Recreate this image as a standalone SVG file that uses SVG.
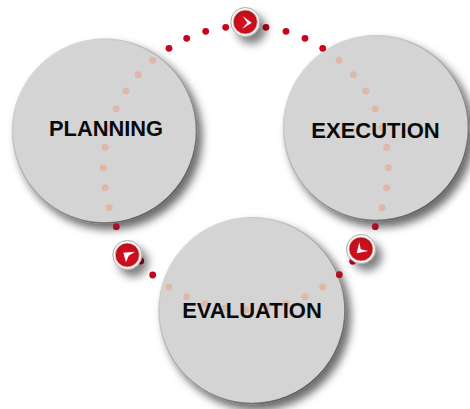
<svg xmlns="http://www.w3.org/2000/svg" width="470" height="409" viewBox="0 0 470 409">
<style>
.disc{fill:#d4d4d4;stroke:url(#discEdge);stroke-width:1.6;filter:url(#discShadow)}
.label{font-family:"Liberation Sans",Arial,sans-serif;font-weight:700;font-size:22px;fill:#0a0a0a;text-anchor:middle}
.red{fill:#c9041f}
.faded{fill:#dfb9a6}
.ring{fill:#fbfbfb;stroke:#a8a8a8;stroke-width:1;filter:url(#btnShadow)}
.core{fill:url(#btnFill);stroke:#e9b4ac;stroke-width:.8}
.arrow{fill:#fff}
</style>
<defs>
<linearGradient id="discEdge" x1="0.15" y1="0.1" x2="0.85" y2="0.9"><stop offset="0" stop-color="#dcdcdc"/><stop offset="0.45" stop-color="#b0b0b0"/><stop offset="1" stop-color="#5a5a5a"/></linearGradient>
<radialGradient id="btnFill" cx="0.5" cy="0.55" r="0.55"><stop offset="0" stop-color="#dc0c1e"/><stop offset="0.7" stop-color="#c80f1c"/><stop offset="0.92" stop-color="#a9141a"/><stop offset="1" stop-color="#c8503f"/></radialGradient>
<filter id="discShadow" x="-15%" y="-15%" width="135%" height="135%"><feDropShadow dx="5" dy="6" stdDeviation="4.5" flood-color="#000" flood-opacity="0.58"/></filter>
<filter id="btnShadow" x="-60%" y="-60%" width="240%" height="240%"><feDropShadow dx="6" dy="7" stdDeviation="4.5" flood-color="#000" flood-opacity="0.5"/></filter>
</defs>
<g id="node-planning"><circle class="disc" cx="104.5" cy="131" r="92"/></g>
<g id="node-execution"><circle class="disc" cx="376" cy="128" r="92.5"/></g>
<g id="node-evaluation"><circle class="disc" cx="252" cy="310.5" r="93"/></g>
<g id="connectors">
<g class="faded">
<circle cx="152.7" cy="60.3" r="3.5"/><circle cx="138.3" cy="74.7" r="3.5"/><circle cx="126" cy="91" r="3.5"/><circle cx="116.3" cy="108.7" r="3.5"/><circle cx="109" cy="127.7" r="3.5"/><circle cx="105" cy="147.3" r="3.5"/><circle cx="103.3" cy="167.7" r="3.5"/><circle cx="105" cy="187.7" r="3.5"/><circle cx="109.3" cy="207.7" r="3.5"/>
<circle cx="339" cy="60.3" r="3.5"/><circle cx="353.3" cy="74.7" r="3.5"/><circle cx="365.7" cy="91" r="3.5"/><circle cx="375.3" cy="108.7" r="3.5"/><circle cx="381.7" cy="127.7" r="3.5"/><circle cx="386.7" cy="147.3" r="3.5"/><circle cx="388.3" cy="167.7" r="3.5"/><circle cx="386.7" cy="187.7" r="3.5"/><circle cx="382.3" cy="207.7" r="3.5"/>
<circle cx="169" cy="287" r="3.5"/><circle cx="186.7" cy="296.7" r="3.5"/><circle cx="205.3" cy="303.7" r="3.5"/><circle cx="225.3" cy="307.7" r="3.5"/><circle cx="246" cy="309.7" r="3.5"/><circle cx="266.7" cy="307.7" r="3.5"/><circle cx="286" cy="303.7" r="3.5"/><circle cx="305" cy="296.7" r="3.5"/><circle cx="322.7" cy="287" r="3.5"/>
</g>
<g class="red">
<circle cx="169" cy="48.3" r="3.4"/><circle cx="186.7" cy="38.3" r="3.4"/><circle cx="205.7" cy="31.3" r="3.4"/><circle cx="225.7" cy="27.3" r="3.4"/><circle cx="266" cy="27.3" r="3.4"/><circle cx="286" cy="31.3" r="3.4"/><circle cx="305" cy="38.3" r="3.4"/><circle cx="322.7" cy="48.3" r="3.4"/>
<circle cx="116.3" cy="226.7" r="3.4" fill="#a80f22"/><circle cx="375.3" cy="226.7" r="3.4" fill="#a80f22"/>
<circle cx="140.7" cy="261" r="3.4"/><circle cx="152.7" cy="275" r="3.4"/><circle cx="352.7" cy="261.3" r="3.4"/><circle cx="339.3" cy="274.7" r="3.4" fill="#b0101f"/>
</g>
</g>
<g id="labels">
<text class="label" x="106" y="136" textLength="114" lengthAdjust="spacingAndGlyphs">PLANNING</text>
<text class="label" x="375.5" y="138">EXECUTION</text>
<text class="label" x="252" y="318">EVALUATION</text>
</g>
<g id="button-top">
<circle class="ring" cx="245.3" cy="22" r="14.5"/><circle class="core" cx="245.3" cy="22" r="12"/>
<path class="arrow" d="M242.7 16.2 L251.7 22.7 L242 28.9 L247.3 22.7 Z"/>
</g>
<g id="button-left">
<circle class="ring" cx="127.3" cy="255" r="14.5"/><circle class="core" cx="127.3" cy="255" r="12"/>
<path class="arrow" d="M135 251.7 L123.3 252.7 L126 262.3 L128.7 255.7 Z"/>
</g>
<g id="button-right">
<circle class="ring" cx="361" cy="249" r="14.5"/><circle class="core" cx="361" cy="249" r="12"/>
<path class="arrow" d="M359.3 242.3 L356.7 253.3 L368.3 251 L360.7 249.3 Z"/>
</g>
</svg>
